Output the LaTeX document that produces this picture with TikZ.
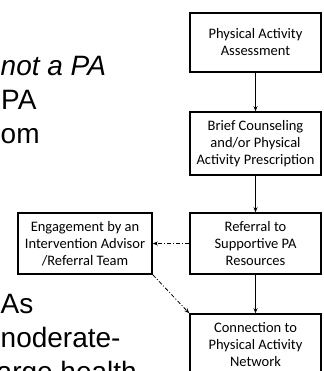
\documentclass[tikz,border=0pt]{standalone}
\usepackage{fontspec}
\setmainfont{Carlito}
\newfontfamily\slidefont{Liberation Sans}
\usetikzlibrary{arrows.meta}

\begin{document}
\begin{tikzpicture}[x=1pt, y=-1pt,
    stepbox/.style={draw, line width=1.6pt, minimum width=131pt, inner sep=0pt,
      align=center, font=\fontsize{14.5}{17}\selectfont},
    slidetext/.style={anchor=base west, inner sep=0pt,
      font=\slidefont\fontsize{28}{34}\selectfont},
    flow/.style={-{Stealth[length=5pt, width=4pt]}, line width=0.8pt},
    optflow/.style={flow, dash pattern=on 4pt off 2pt on 1pt off 2pt}]
    \useasboundingbox (0,0) rectangle (323,371);
    \clip (0,0) rectangle (323,371);

    % slide text behind the chart
    \node[slidetext] (t1) at (0.5, 76) {\itshape not a PA};
    \node[slidetext] (t2) at (1, 110) {PA};
    \node[slidetext] (t3) at (0.5, 144) {om};
    \node[slidetext] (t4) at (0.5, 313) {As};
    \node[slidetext] (t5) at (0.5, 347) {noderate-};
    \node[slidetext, anchor=base east] (t6) at (137, 381) {arge health};

    % chart boxes
    \node[stepbox, minimum height=59pt] (assess) at (255.5, 42.5)
      {Physical Activity\\Assessment};
    \node[stepbox, minimum height=63pt] (counsel) at (255.5, 143.5)
      {Brief Counseling\\and/or Physical\\Activity Prescription};
    \node[stepbox, minimum height=61pt] (refer) at (255.5, 243.5)
      {Referral to\\Supportive PA\\Resources};
    \node[stepbox, minimum height=62pt] (connect) at (255.5, 345)
      {Connection to\\Physical Activity\\Network};
    \node[stepbox, minimum width=134pt, minimum height=61pt] (engage) at (85, 243.5)
      {Engagement by an\\Intervention Advisor\\/Referral Team};

    % connectors
    \draw[flow] (assess) -- (counsel);
    \draw[flow] (counsel) -- (refer);
    \draw[flow] (refer) -- (connect);
    \draw[optflow] (refer.west) -- (engage.east);
    \draw[optflow] (engage.south east) -- (connect.north west);
\end{tikzpicture}
\end{document}
